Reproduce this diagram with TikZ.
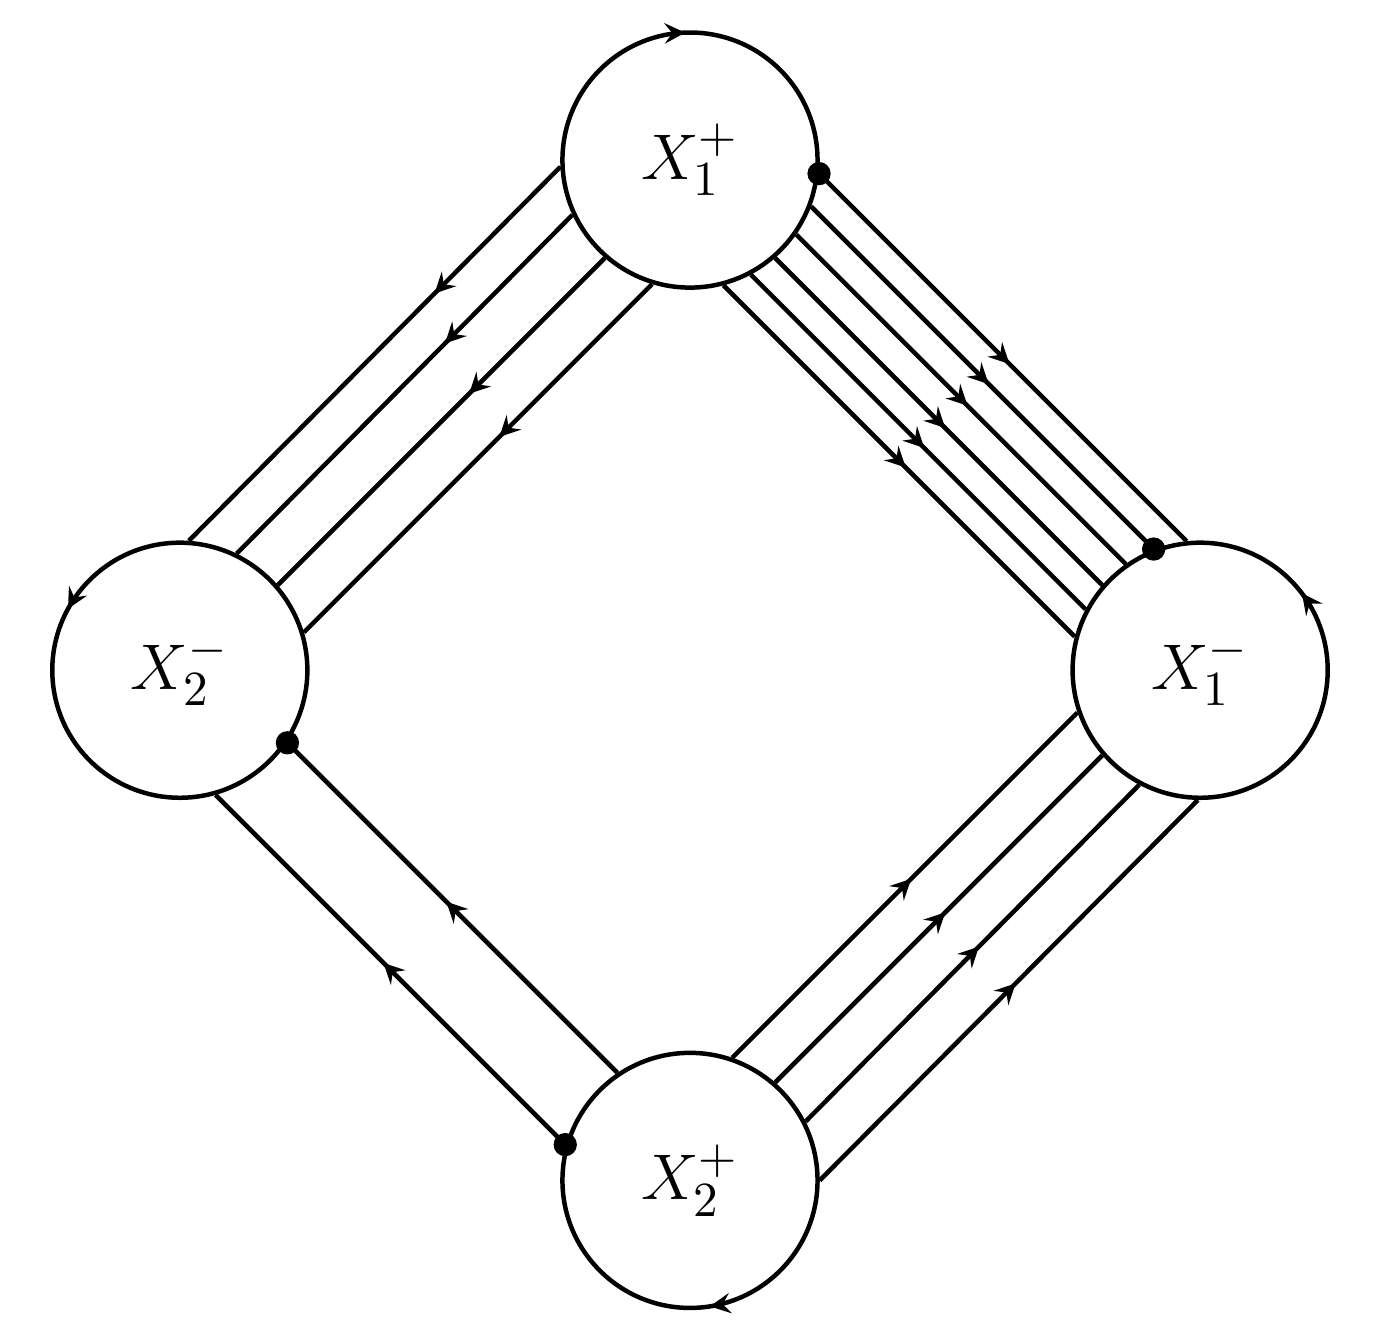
\documentclass[tikz,border=0pt]{standalone}
\usetikzlibrary{arrows,shapes}
\usetikzlibrary{decorations.markings}
\tikzstyle{vertex}=[circle,draw,line width=1pt,minimum size=2cm,inner sep=0pt,font=\fontsize{15.5}{18}\selectfont]
\tikzstyle{strand}=[draw,line width=1pt]
\tikzset{strandarrow/.style={postaction={decorate},decoration={markings,mark=at position #1 with {\arrow{stealth}}}}}
\tikzset{ccwarrow/.style={line width=1pt,decorate,decoration={markings,mark=at position #1 with {\arrow{stealth}}}}}
\tikzset{cwarrow/.style={line width=1pt,decorate,decoration={markings,mark=at position #1 with {\arrowreversed{stealth}}}}}
\begin{document}
\begin{tikzpicture}

\useasboundingbox (-5.41,-5.255) rectangle (5.41,5.255);

     \foreach \pos/ \name/ \txt in {{(0,4)/X1p/X_1^+},{(-4,0)/X2m/X_2^-}, {(4,0)/X1m/X_1^-}, {(0,-4)/X2p/X_2^+}}
        \node[vertex] (\name) at \pos {$\txt$};

    % orientation of the boundary circles
    \path[cwarrow=0.256] (X1p.center) circle (1cm);
    \path[ccwarrow=0.103] (X1m.center) circle (1cm);
    \path[ccwarrow=0.42] (X2m.center) circle (1cm);
    \path[cwarrow=0.775] (X2p.center) circle (1cm);

    % strands X1p -> X1m
    \foreach \a/ \b in {-6/96, -21/111, -35/125, -49/139, -62/152, -75/165}
        \path[strand, strandarrow=0.52] (X1p.\a) -- (X1m.\b);

    % strands X1p -> X2m
    \foreach \a/ \b/ \p in {183.5/86.5/0.34, 205.5/64.5/0.38, 229/41/0.415, 253/17/0.44}
        \path[strand, strandarrow=\p] (X1p.\a) -- (X2m.\b);

    % strands X2p -> X1m
    \foreach \a/ \b in {71/199, 49/221, 27.5/242.5, 0.5/269.5}
        \path[strand, strandarrow=0.52] (X2p.\a) -- (X1m.\b);

    % strands X2p -> X2m
    \foreach \a/ \b in {124/-34, 164.5/-74.5}
        \path[strand, strandarrow=0.52] (X2p.\a) -- (X2m.\b);

    % marked points
    \foreach \pt in {X1p.-6, X1m.111, X2m.-34, X2p.164.5}
        \fill (\pt) circle (2.6pt);

 \end{tikzpicture}
\end{document}
